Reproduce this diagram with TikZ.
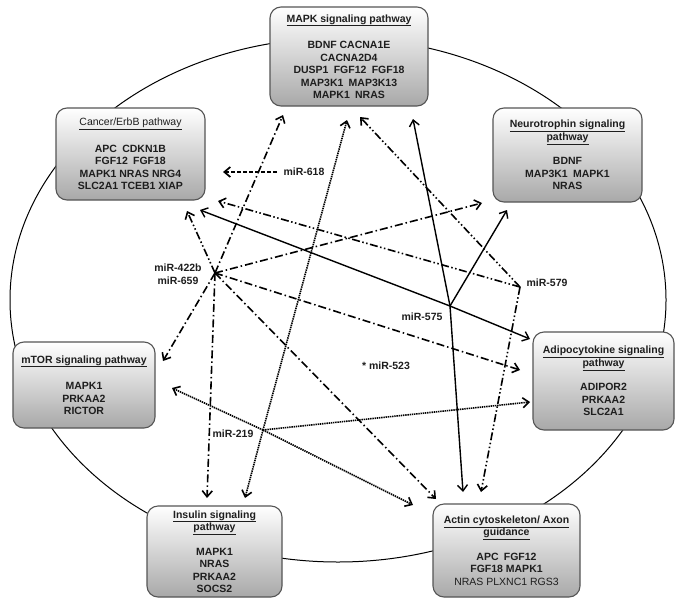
\documentclass[tikz,border=0pt]{standalone}
\usepackage{fontspec}
\setmainfont{Liberation Sans}
\usetikzlibrary{arrows.meta}
\definecolor{txt}{HTML}{1E1E1E}
\definecolor{bord}{HTML}{555555}
\begin{document}
\begin{tikzpicture}[x=1pt,y=-1pt,
 pbox/.style={draw=bord, line width=1.1pt, rounded corners=11pt, top color=white, bottom color=black!34, align=center, text=txt, font=\fontsize{10.5}{12.5}\selectfont\bfseries, inner sep=0pt},
 mir/.style={text=txt, font=\fontsize{10.5}{12.5}\selectfont\bfseries, inner sep=1pt, align=center},
 tip/.style={-{Straight Barb[length=6pt,width=10pt]}},
 dd/.style={tip, line width=1.6pt, dash pattern=on 8pt off 3pt on 1.5pt off 3pt},
 ddd/.style={tip, line width=1.6pt, dash pattern=on 8pt off 2.5pt on 1.5pt off 2.5pt on 1.5pt off 2.5pt},
 sol/.style={tip, line width=1.4pt},
 dots/.style={tip, line width=1.6pt, dash pattern=on 1.4pt off 0.8pt},
 dsh/.style={tip, line width=1.7pt, dash pattern=on 4pt off 2pt}]
\useasboundingbox (0,0) rectangle (676,599);
\fill[white] (0,0) rectangle (676,599);
\draw[line width=1pt] (338,300) ellipse [x radius=328pt, y radius=262pt];

\node[pbox, minimum width=158pt, minimum height=99pt] (mapk) at (349,56.5)
 {\underline{MAPK signaling pathway}\\[14pt]
  BDNF CACNA1E\\ CACNA2D4\\ DUSP1\hspace{0.5em}FGF12\hspace{0.5em}FGF18\\
  MAP3K1\hspace{0.5em}MAP3K13\\ MAPK1\hspace{0.5em}NRAS};
\node[pbox, minimum width=149pt, minimum height=92pt] (cancer) at (130.5,154)
 {{\mdseries\underline{Cancer/ErbB pathway}}\\[14pt]
  APC\hspace{0.5em}CDKN1B\\ FGF12\hspace{0.5em}FGF18\\ MAPK1 NRAS NRG4\\ SLC2A1 TCEB1 XIAP};
\node[pbox, minimum width=149pt, minimum height=94pt] (neuro) at (567.5,155)
 {\underline{Neurotrophin signaling}\\ \underline{pathway}\\[12pt]
  BDNF\\ MAP3K1\hspace{0.5em}MAPK1\\ NRAS};
\node[pbox, minimum width=142pt, minimum height=86pt] (mtor) at (84,385)
 {\underline{mTOR signaling pathway}\\[14pt] MAPK1\\ PRKAA2\\ RICTOR};
\node[pbox, minimum width=141pt, minimum height=98pt] (adipo) at (603.5,381)
 {\underline{Adipocytokine signaling}\\ \underline{pathway}\\[12pt] ADIPOR2\\ PRKAA2\\ SLC2A1};
\node[pbox, minimum width=135pt, minimum height=91pt] (insulin) at (214.5,551.5)
 {\underline{Insulin signaling}\\ \underline{pathway}\\[12pt] MAPK1\\ NRAS\\ PRKAA2\\ SOCS2};
\node[pbox, minimum width=147pt, minimum height=93pt] (actin) at (506.5,550.5)
 {\underline{Actin cytoskeleton/ Axon}\\ \underline{guidance}\\[12pt]
  APC\hspace{0.5em}FGF12\\ FGF18 MAPK1\\ {\mdseries NRAS PLXNC1 RGS3}};

% hubs
\coordinate (h1) at (215,273);
\coordinate (h2) at (450,306);
\coordinate (h3) at (520,287);
\coordinate (h4) at (263,430);
\coordinate (s618) at (277,172);
% arrow ends
\coordinate (e1a) at (283,115);
\coordinate (e1b) at (187,211);
\coordinate (e1c) at (482,203);
\coordinate (e1d) at (163,361);
\coordinate (e1e) at (520,370);
\coordinate (e1f) at (207,498);
\coordinate (e1g) at (436,499);
\coordinate (e2a) at (413,119);
\coordinate (e2b) at (507,210);
\coordinate (e2c) at (200,210);
\coordinate (e2d) at (530,339);
\coordinate (e2e) at (463,492);
\coordinate (e3a) at (218,201);
\coordinate (e3b) at (360,117);
\coordinate (e3c) at (481,492);
\coordinate (e4a) at (530,402);
\coordinate (e4b) at (347,120);
\coordinate (e4c) at (245,498);
\coordinate (e4d) at (172,388);
\coordinate (e4e) at (413,505);
\coordinate (e618) at (223,172);

% miR-422b / miR-659
\draw[dd] (h1) -- (e1a);
\draw[ddd] (h1) -- (e1b);
\draw[dd] (h1) -- (e1c);
\draw[dd] (h1) -- (e1d);
\draw[dd] (h1) -- (e1e);
\draw[dd] (h1) -- (e1f);
\draw[dd] (h1) -- (e1g);
% miR-575
\draw[sol] (h2) -- (e2a);
\draw[sol] (h2) -- (e2b);
\draw[sol] (h2) -- (e2c);
\draw[sol] (h2) -- (e2d);
\draw[sol] (h2) -- (e2e);
% miR-579
\draw[ddd] (h3) -- (e3a);
\draw[ddd] (h3) -- (e3b);
\draw[ddd] (h3) -- (e3c);
% miR-219
\draw[dots] (h4) -- (e4a);
\draw[dots] (h4) -- (e4b);
\draw[dots] (h4) -- (e4c);
\draw[dots] (h4) -- (e4d);
\draw[dots] (h4) -- (e4e);
% miR-618
\draw[dsh] (s618) -- (e618);

% labels
\node[mir] (l618) at (304,172) {miR-618};
\node[mir] (l422) at (178,274) {miR-422b\\ miR-659};
\node[mir] (l579) at (547,283) {miR-579};
\node[mir] (l575) at (422,317) {miR-575};
\node[mir] (l523) at (386,366) {* miR-523};
\node[mir] (l219) at (233,434) {miR-219};
\end{tikzpicture}
\end{document}
